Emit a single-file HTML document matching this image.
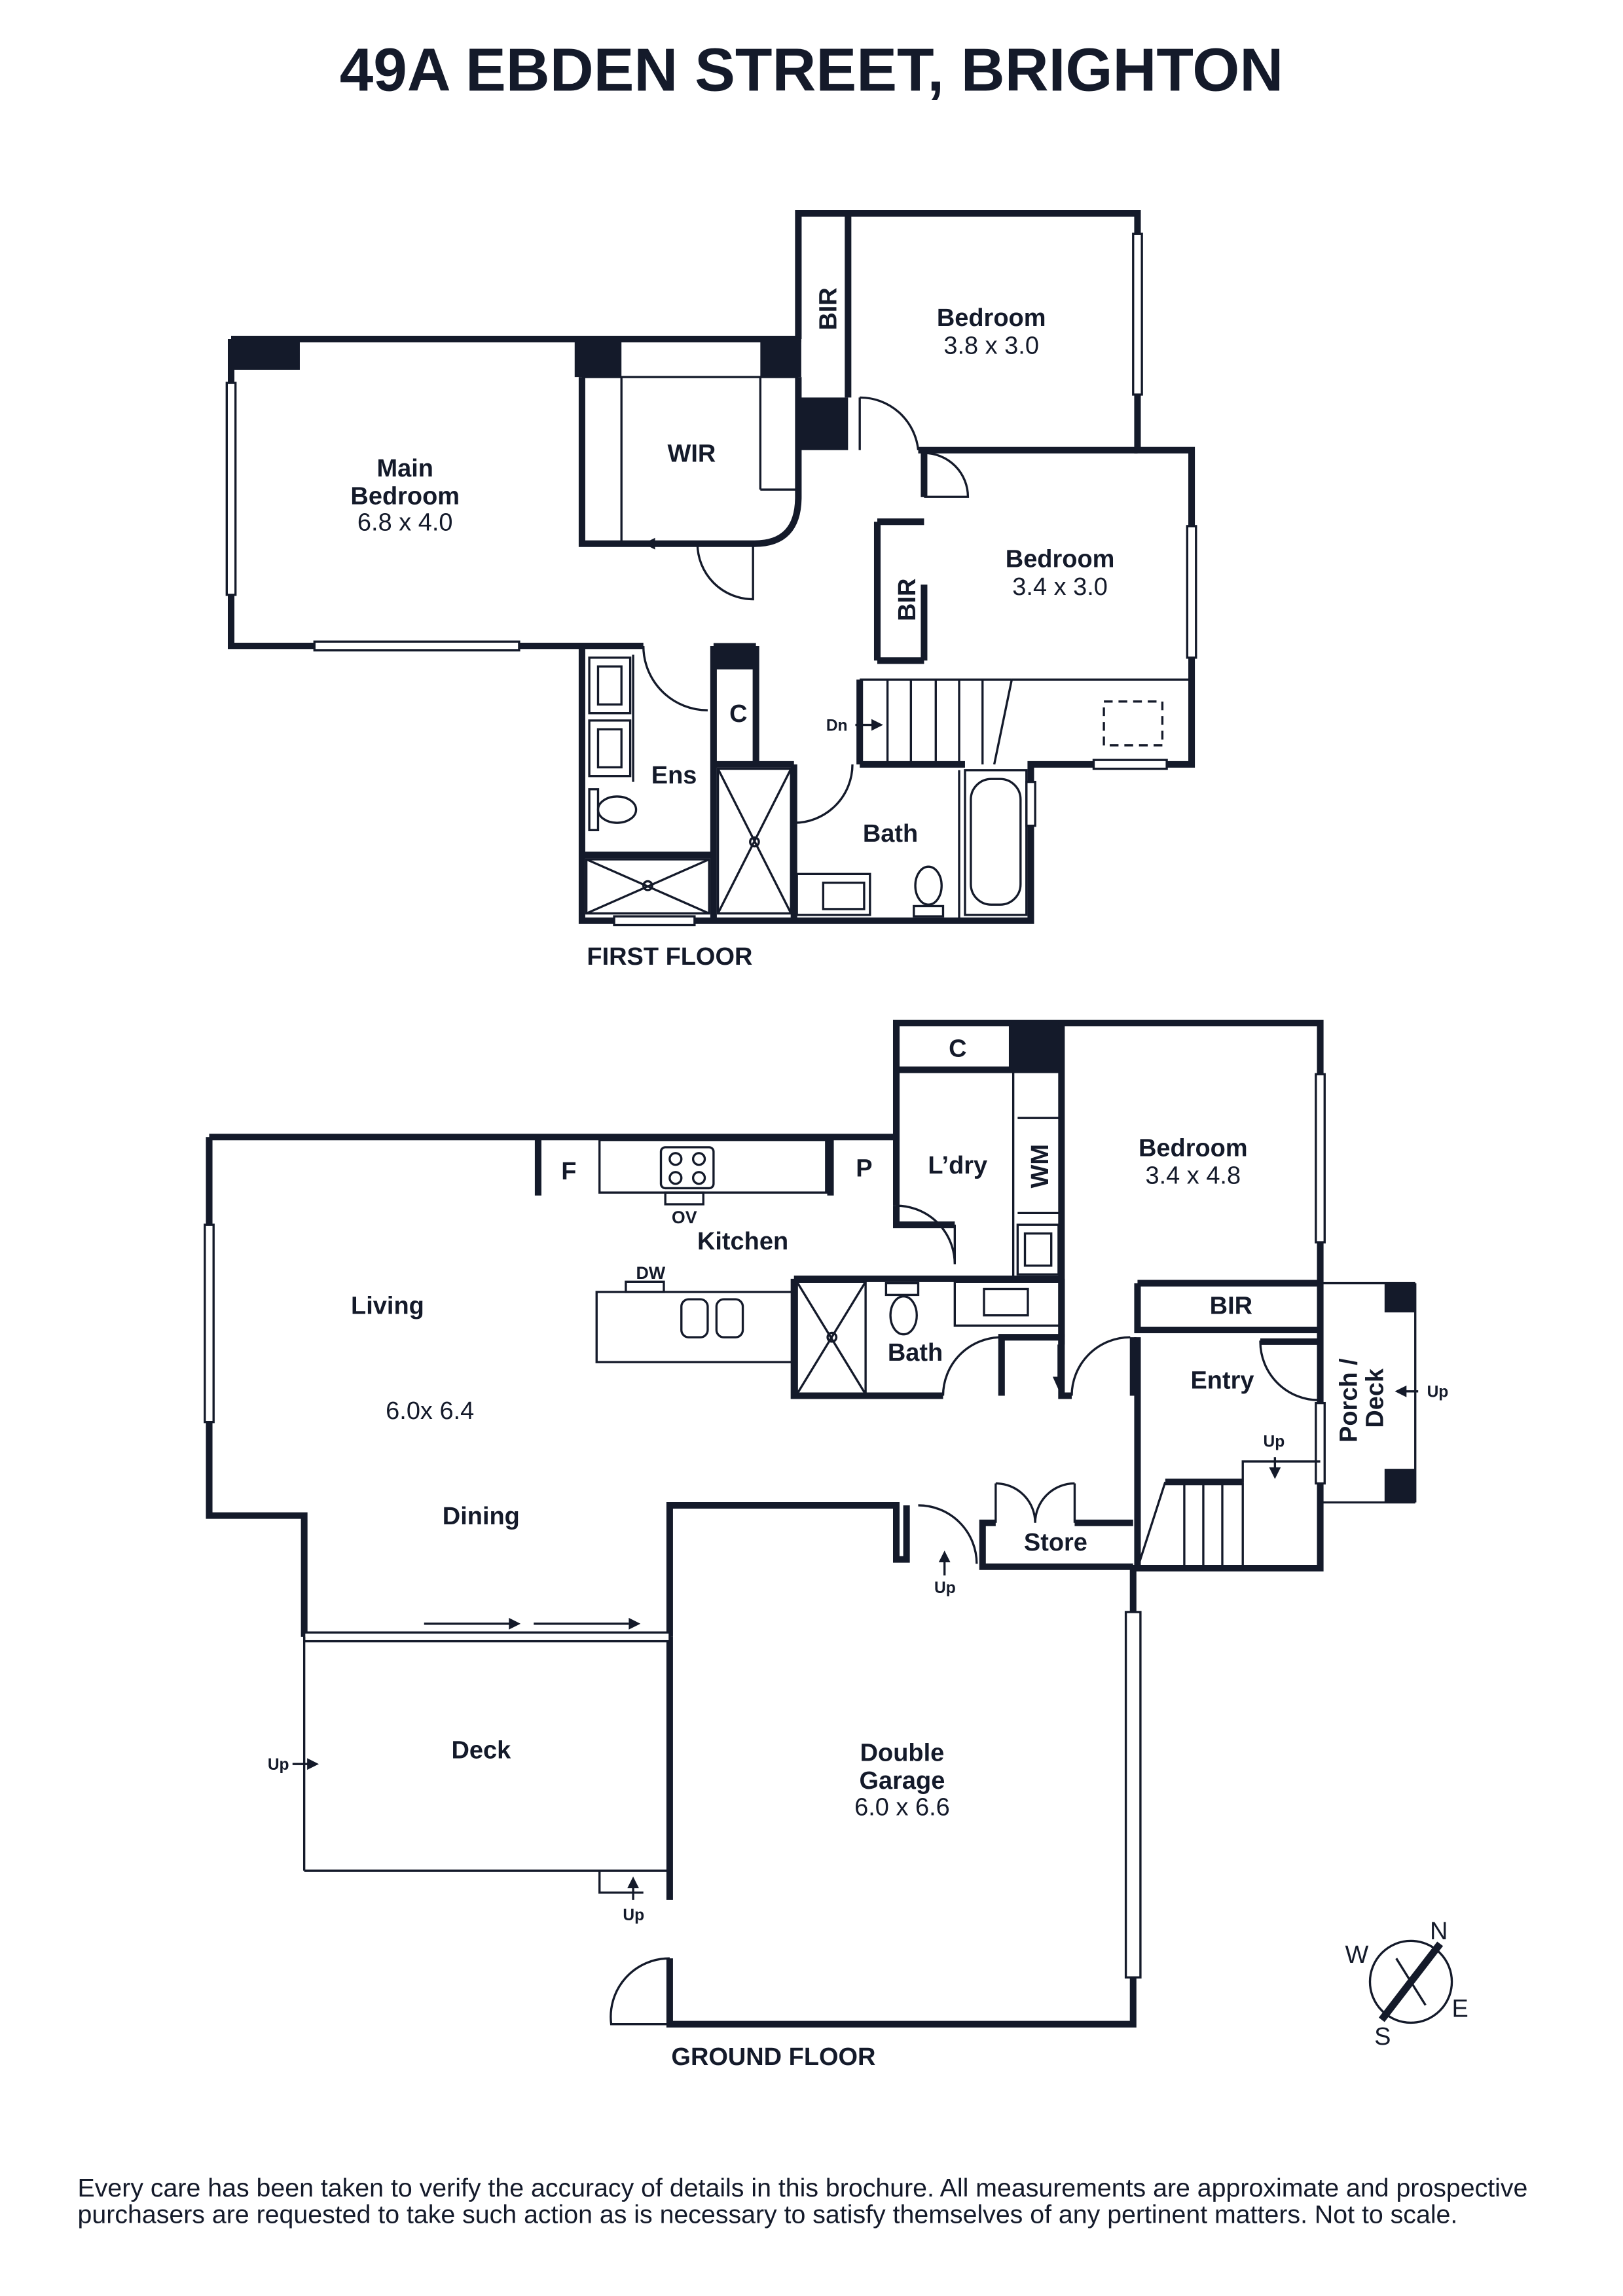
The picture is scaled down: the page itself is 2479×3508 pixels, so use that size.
<!DOCTYPE html>
<html><head><meta charset="utf-8"><style>
html,body{margin:0;padding:0;background:#fff}
svg{display:block}
text{font-family:"Liberation Sans",sans-serif;fill:#141a2a}
.b{font-weight:bold}
</style></head><body>
<svg width="2479" height="3508" viewBox="0 0 1110 1571" xmlns="http://www.w3.org/2000/svg">
<g stroke="#141a2a" fill="none" stroke-linejoin="miter">
<g stroke-width="4.5">
<polyline points="158,232 548,232"/>
<polyline points="158,232 158,442 398,442 398,630 705,630 705,523 815,523 815,308 778,308 778,146 546,146 546,232"/>
<line x1="580" y1="146" x2="580" y2="272"/>
<line x1="628" y1="308" x2="778" y2="308"/>
<line x1="632" y1="310" x2="632" y2="340"/>
<line x1="632" y1="400" x2="632" y2="452"/>
<line x1="600" y1="357" x2="632" y2="357"/>
<line x1="600" y1="357" x2="600" y2="452"/>
<line x1="600" y1="452" x2="632" y2="452"/>
<path d="M398,258 L398,372 L516,372 Q546,372 546,340 L546,258"/>
<line x1="488" y1="442" x2="488" y2="630"/>
<line x1="398" y1="442" x2="440" y2="442"/>
<line x1="488" y1="523" x2="543" y2="523"/>
<line x1="543" y1="523" x2="543" y2="630"/>
<line x1="517" y1="442" x2="517" y2="523"/>
<line x1="588" y1="465" x2="588" y2="523"/>
<line x1="588" y1="523" x2="660" y2="523"/>
<line x1="398" y1="585" x2="488" y2="585"/>
</g>
<g fill="#141a2a" stroke="none">
<rect x="158" y="230" width="47" height="23"/>
<rect x="393" y="230" width="32" height="28"/>
<rect x="520" y="230" width="28" height="28"/>
<rect x="546" y="272" width="34" height="36"/>
<rect x="488" y="440" width="29" height="18"/>
<rect x="690" y="700" width="36" height="34"/>
<rect x="947" y="878" width="21" height="20"/>
<rect x="947" y="1005" width="21" height="23"/>
</g>
<g stroke-width="1.5" fill="#fff">
<rect x="155" y="262" width="6" height="145"/>
<rect x="215" y="439" width="140" height="6"/>
<rect x="775" y="160" width="6" height="110"/>
<rect x="812" y="360" width="6" height="90"/>
<rect x="748" y="520" width="50" height="6"/>
<rect x="420" y="627" width="55" height="6"/>
<rect x="702" y="535" width="6" height="30"/>
</g>
<g stroke-width="1.5">
<line x1="398" y1="258" x2="546" y2="258"/>
<line x1="425" y1="258" x2="425" y2="372"/>
<line x1="520" y1="258" x2="520" y2="335"/>
<line x1="520" y1="335" x2="546" y2="335"/>
<path d="M588,272 L588,308 M588,272 A40,40 0 0 1 628,308"/>
<path d="M632,310 A30,30 0 0 1 662,340 L632,340"/>
<path d="M477,372 A38,38 0 0 0 515,410 L515,372"/>
<path d="M440,442 A44,44 0 0 0 484,486"/>
<path d="M543,563 A40,40 0 0 0 583,523 L583,523"/>
<line x1="440" y1="372" x2="480" y2="372"/>
<line x1="588" y1="465" x2="692" y2="465"/>
<line x1="692" y1="465" x2="680" y2="523"/>
<line x1="607" y1="465" x2="607" y2="523"/><line x1="623" y1="465" x2="623" y2="523"/>
<line x1="640" y1="465" x2="640" y2="523"/><line x1="656" y1="465" x2="656" y2="523"/>
<line x1="672" y1="465" x2="672" y2="523"/>
<line x1="692" y1="465" x2="815" y2="465"/>
<rect x="755" y="480" width="40" height="30" stroke-dasharray="6,4"/>
<rect x="403" y="450" width="28" height="38"/><rect x="409" y="456" width="16" height="26"/>
<rect x="403" y="493" width="28" height="38"/><rect x="409" y="499" width="16" height="26"/>
<line x1="433" y1="448" x2="433" y2="535"/>
<rect x="403" y="540" width="6" height="28"/>
<ellipse cx="422" cy="554" rx="13" ry="9"/>
<rect x="401" y="588" width="84" height="37"/>
<path d="M401,588 L485,625 M485,588 L401,625"/>
<circle cx="443" cy="606" r="3"/>
<rect x="491" y="526" width="50" height="99"/>
<path d="M491,526 L541,625 M541,526 L491,625"/>
<circle cx="516" cy="576" r="3"/>
<rect x="545" y="598" width="50" height="28"/><rect x="563" y="604" width="28" height="18"/>
<rect x="625" y="620" width="20" height="7"/>
<ellipse cx="635" cy="606" rx="9" ry="13"/>
<rect x="660" y="527" width="42" height="99"/>
<rect x="664" y="533" width="34" height="86" rx="14"/>
<line x1="656" y1="527" x2="656" y2="630"/>
</g>

<g stroke-width="4.5">
<polyline points="143,778 613,778 613,700 903,700 903,1073 775,1073 775,1385 458,1385 458,1340"/>
<polyline points="143,778 143,1037 208,1037 208,1120"/>
<polyline points="458,1120 458,1030 613,1030 613,1067 620,1067 620,1030"/>
<line x1="458" y1="1120" x2="458" y2="1300"/>
<line x1="613" y1="700" x2="613" y2="825"/>
<line x1="613" y1="732" x2="726" y2="732"/>
<line x1="726" y1="700" x2="726" y2="920"/>
<line x1="368" y1="778" x2="368" y2="818"/>
<line x1="568" y1="778" x2="568" y2="818"/>
<polyline points="613,825 613,838 653,838"/>
<polyline points="543,875 726,875"/>
<polyline points="543,875 543,955 645,955"/>
<polyline points="685,955 685,915 726,915 726,955 733,955"/>
<line x1="726" y1="875" x2="726" y2="915"/>
<line x1="775" y1="955" x2="775" y2="915"/>
<polyline points="778,1073 778,915"/>
<polyline points="778,878 903,878"/>
<polyline points="778,878 778,910 903,910"/>
<polyline points="862,918 903,918"/>
<polyline points="681,1042 672,1042 672,1072 775,1072"/>
<line x1="735" y1="1042" x2="775" y2="1042"/>
<line x1="797" y1="1014" x2="850" y2="1014"/>
</g>
<g stroke-width="1.5" fill="#fff">
<rect x="140" y="838" width="6" height="135"/>
<rect x="900" y="735" width="6" height="115"/>
<rect x="900" y="960" width="6" height="55"/>
<rect x="770" y="1103" width="10" height="250"/>
<rect x="208" y="1117" width="250" height="6"/>
</g>
<g stroke-width="1.5">
<line x1="208" y1="1120" x2="208" y2="1280"/>
<polyline points="208,1280 410,1280 410,1295 440,1295"/>
<line x1="410" y1="1280" x2="458" y2="1280"/>
<line x1="903" y1="878" x2="968" y2="878"/>
<line x1="968" y1="878" x2="968" y2="1028"/>
<line x1="903" y1="1028" x2="968" y2="1028"/>
<rect x="410" y="780" width="155" height="36"/>
<rect x="452" y="785" width="36" height="28" rx="3"/>
<circle cx="462" cy="793" r="4"/><circle cx="478" cy="793" r="4"/><circle cx="462" cy="806" r="4"/><circle cx="478" cy="806" r="4"/>
<rect x="455" y="816" width="26" height="8"/>
<rect x="408" y="884" width="135" height="48"/>
<rect x="428" y="877" width="26" height="7"/>
<rect x="466" y="889" width="18" height="26" rx="5"/><rect x="490" y="889" width="18" height="26" rx="5"/>
<line x1="613" y1="733" x2="693" y2="733"/>
<line x1="693" y1="733" x2="693" y2="875"/>
<rect x="696" y="838" width="28" height="34"/><rect x="701" y="844" width="18" height="22"/>
<line x1="696" y1="765" x2="726" y2="765"/>
<line x1="696" y1="830" x2="726" y2="830"/>
<path d="M613,825 A40,40 0 0 1 653,865 L653,838"/>
<rect x="545" y="877" width="47" height="77"/>
<path d="M545,877 L592,954 M592,877 L545,954"/>
<circle cx="569" cy="915" r="3"/>
<rect x="606" y="878" width="22" height="8"/>
<ellipse cx="618" cy="900" rx="9" ry="13"/>
<rect x="653" y="877" width="72" height="30"/><rect x="673" y="882" width="30" height="18"/>
<path d="M645,955 A40,40 0 0 1 685,915"/>
<path d="M733,955 A40,40 0 0 1 773,915"/>
<path d="M903,918 L862,918 A40,40 0 0 0 902,958"/>
<!-- store double doors -->
<line x1="681" y1="1015" x2="681" y2="1042"/>
<line x1="735" y1="1015" x2="735" y2="1042"/>
<path d="M681,1015 A27,27 0 0 1 708,1042 M735,1015 A27,27 0 0 0 708,1042"/>
<path d="M628,1030 A40,40 0 0 1 668,1070"/>
<line x1="797" y1="1014" x2="778" y2="1073"/>
<line x1="810" y1="1014" x2="810" y2="1073"/><line x1="823" y1="1014" x2="823" y2="1073"/>
<line x1="836" y1="1014" x2="836" y2="1073"/><line x1="850" y1="1014" x2="850" y2="1073"/>
<polyline points="850,1014 850,1000 903,1000"/>
<path d="M458,1340 A40,40 0 0 0 418,1385 L458,1385"/>
<line x1="585" y1="496" x2="600" y2="496"/>
<line x1="290" y1="1111" x2="350" y2="1111"/>
<line x1="365" y1="1111" x2="430" y2="1111"/>
<line x1="200" y1="1207" x2="212" y2="1207"/>
<line x1="433" y1="1300" x2="433" y2="1288"/>
<line x1="646" y1="1078" x2="646" y2="1065"/>
<line x1="872" y1="997" x2="872" y2="1008"/>
<line x1="970" y1="952" x2="958" y2="952"/>
<line x1="724" y1="920" x2="724" y2="945"/>
<circle cx="965" cy="1356" r="28"/>
<line x1="955" y1="1340" x2="975" y2="1372"/>
</g>
<line x1="985" y1="1330" x2="945" y2="1382" stroke="#141a2a" stroke-width="5"/>
</g>
<g fill="#141a2a">
<polygon points="440,372 448,368 448,376"/>
<polygon points="604,496 596,492 596,500"/>
<polygon points="356,1111 348,1107 348,1115"/>
<polygon points="438,1111 430,1107 430,1115"/>
<polygon points="218,1207 210,1203 210,1211"/>
<polygon points="433,1284 429,1292 437,1292"/>
<polygon points="646,1061 642,1069 650,1069"/>
<polygon points="872,1012 868,1004 876,1004"/>
<polygon points="954,952 962,948 962,956"/>
<polygon points="724,951 720,942 728,942"/>
</g>

<text x="555" y="62" class="b" font-size="41.5" text-anchor="middle">49A EBDEN STREET, BRIGHTON</text>
<g font-size="17" text-anchor="middle">
<text x="277" y="326" class="b">Main</text>
<text x="277" y="345" class="b">Bedroom</text>
<text x="277" y="363">6.8 x 4.0</text>
<text x="473" y="316" class="b">WIR</text>
<text x="678" y="223" class="b">Bedroom</text>
<text x="678" y="242">3.8 x 3.0</text>
<text x="725" y="388" class="b">Bedroom</text>
<text x="725" y="407">3.4 x 3.0</text>
<text x="461" y="536" class="b">Ens</text>
<text x="505" y="494" class="b">C</text>
<text x="609" y="576" class="b">Bath</text>
<text x="458" y="660" class="b">FIRST FLOOR</text>
<text x="655" y="723" class="b">C</text>
<text x="389" y="807" class="b">F</text>
<text x="591" y="805" class="b">P</text>
<text x="655" y="803" class="b">L’dry</text>
<text x="468" y="837" font-size="12" class="b">OV</text>
<text x="508" y="855" class="b">Kitchen</text>
<text x="445" y="875" font-size="12" class="b">DW</text>
<text x="265" y="899" class="b">Living</text>
<text x="294" y="971">6.0x 6.4</text>
<text x="329" y="1043" class="b">Dining</text>
<text x="816" y="791" class="b">Bedroom</text>
<text x="816" y="810">3.4 x 4.8</text>
<text x="842" y="899" class="b">BIR</text>
<text x="836" y="950" class="b">Entry</text>
<text x="626" y="931" class="b">Bath</text>
<text x="722" y="1061" class="b">Store</text>
<text x="329" y="1203" class="b">Deck</text>
<text x="617" y="1205" class="b">Double</text>
<text x="617" y="1224" class="b">Garage</text>
<text x="617" y="1242">6.0 x 6.6</text>
<text x="529" y="1413" class="b">GROUND FLOOR</text>
</g>
<g font-size="11" class="b">
<text x="565" y="500">Dn</text>
<text x="183" y="1211">Up</text>
<text x="426" y="1314">Up</text>
<text x="639" y="1090">Up</text>
<text x="864" y="990">Up</text>
<text x="976" y="956">Up</text>
</g>
<g font-size="17" class="b">
<text transform="translate(572,226) rotate(-90)">BIR</text>
<text transform="translate(626,425) rotate(-90)">BIR</text>
<text transform="translate(717,813) rotate(-90)">WM</text>
<text transform="translate(928,987) rotate(-90)">Porch /</text>
<text transform="translate(946,977) rotate(-90)">Deck</text>
</g>
<g font-size="17">
<text x="920" y="1343">W</text>
<text x="978" y="1327">N</text>
<text x="993" y="1380">E</text>
<text x="940" y="1399">S</text>
</g>
<text x="53" y="1503" font-size="17.6">Every care has been taken to verify the accuracy of details in this brochure. All measurements are approximate and prospective</text>
<text x="53" y="1521" font-size="17.6">purchasers are requested to take such action as is necessary to satisfy themselves of any pertinent matters. Not to scale.</text>
</svg>
</body></html>
